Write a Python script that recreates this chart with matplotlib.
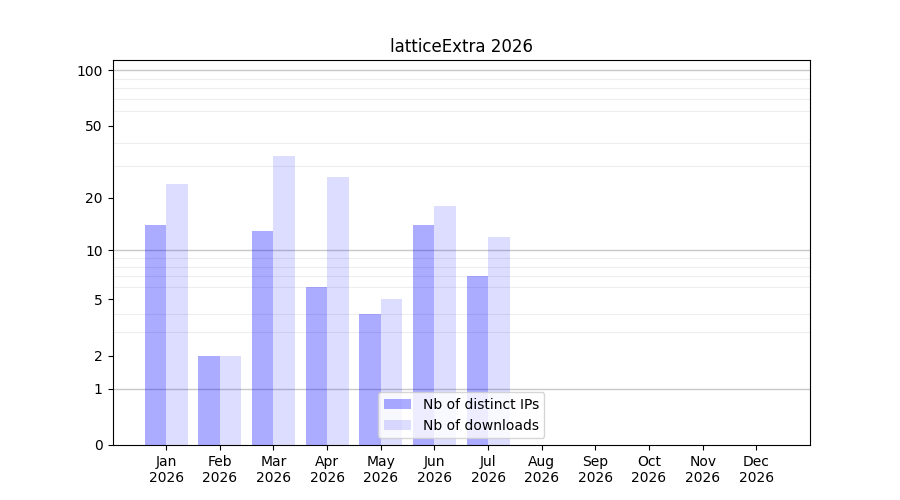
import numpy as np
import matplotlib
matplotlib.use('Agg')
import matplotlib.pyplot as plt

months = ['Jan', 'Feb', 'Mar', 'Apr', 'May', 'Jun', 'Jul', 'Aug', 'Sep', 'Oct', 'Nov', 'Dec']
year = '2026'
distinct_ips = [14, 2, 13, 6, 4, 14, 7]
downloads = [24, 2, 34, 26, 5, 18, 12]


def fwd(y):
    return np.log10(1 + np.clip(y, 0, None))


def inv(y):
    return 10 ** y - 1


fig, ax = plt.subplots(figsize=(9, 5), dpi=100)
ax.set_yscale('function', functions=(fwd, inv))

x_ips = np.arange(len(distinct_ips))
x_dl = np.arange(len(downloads))
ax.bar(x_ips - 0.2, distinct_ips, width=0.4, color='blue', alpha=0.33,
       label='Nb of distinct IPs', zorder=2)
ax.bar(x_dl + 0.2, downloads, width=0.4, color='blue', alpha=0.135,
       label='Nb of downloads', zorder=2)

ax.set_xlim(-1, 12)
ax.set_ylim(0, 113.5)
ax.set_xticks(np.arange(len(months)))
ax.set_xticklabels([m + '\n' + year for m in months])

ax.set_yticks([0, 1, 2, 5, 10, 20, 50, 100])
ax.set_yticklabels(['0', '1', '2', '5', '10', '20', '50', '100'])
minor = list(range(2, 10)) + list(range(20, 100, 10))
ax.set_yticks(minor, minor=True)
ax.tick_params(axis='y', which='minor', length=0)
ax.grid(True, axis='y', which='minor', color='#eeeeee', linewidth=0.8, zorder=0)
for v in [1, 10, 100]:
    ax.axhline(v, color='#c8c8c8', linewidth=1, zorder=1)

ax.set_title('latticeExtra ' + year)
ax.legend(loc='lower center')

fig.savefig('out.png')
